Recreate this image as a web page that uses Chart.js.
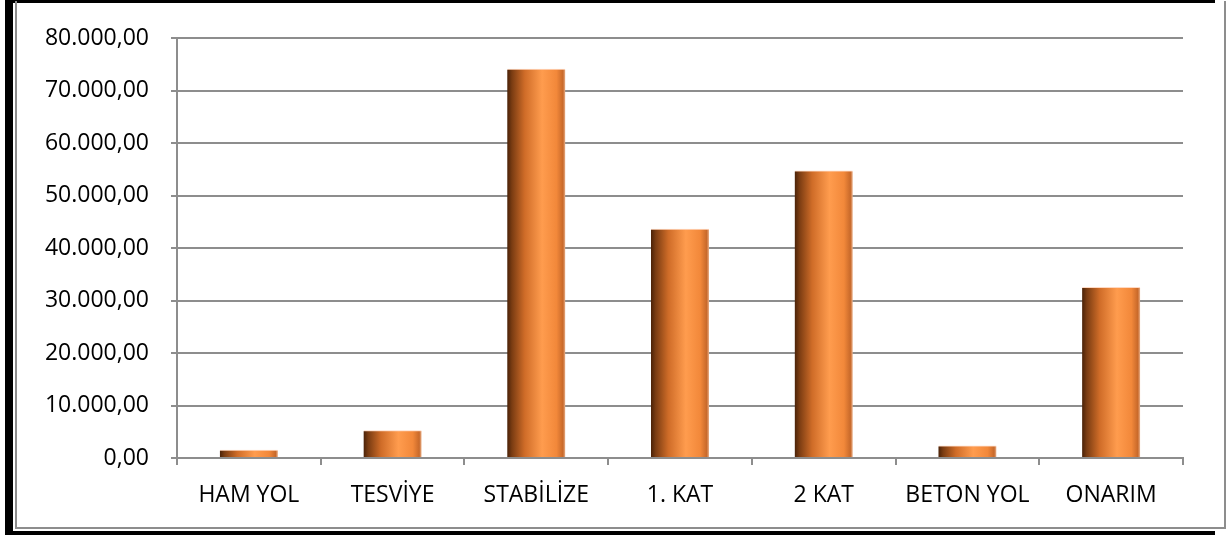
<!DOCTYPE html>
<html>
<head>
<meta charset="utf-8">
<script src="https://cdn.jsdelivr.net/npm/chart.js@4/dist/chart.umd.min.js"></script>
<style>
	body { margin: 0; background: #fff; }
	#wrap { position: relative; width: 1227px; height: 535px; overflow: hidden; }
	#shadow { position: absolute; left: 5px; top: 0; width: 1210px; height: 535px; background: #000; }
	#card { position: absolute; left: 13px; top: 3px; width: 1214px; height: 528px; background: #fff; }
	#edge { position: absolute; left: 15px; top: 1px; width: 1211px; height: 528px; border-left: 2px solid #8d8d8d; border-right: 2px solid #8d8d8d; border-bottom: 2px solid #8d8d8d; box-sizing: border-box; }
	canvas { position: absolute; left: 0; top: 0; }
</style>
</head>
<body>
<div id="wrap">
	<div id="shadow"></div>
	<div id="card"></div>
	<div id="edge"></div>
	<canvas id="chart" width="1227" height="535"></canvas>
</div>
<script>
const categories = ['HAM YOL', 'TESVİYE', 'STABİLİZE', '1. KAT', '2 KAT', 'BETON YOL', 'ONARIM'];
const values = [1500, 5200, 74100, 43600, 54700, 2300, 32500];
const yTickLabels = ['0,00', '10.000,00', '20.000,00', '30.000,00', '40.000,00', '50.000,00', '60.000,00', '70.000,00', '80.000,00'];

const BAR_W = 58;
const FONT = { family: '"Open Sans"', size: 23 };

// cylinder shading, dark on the left, light toward the right
function barFill(context) {
	const chart = context.chart;
	const x = chart.scales && chart.scales.x;
	if (!x) return '#f08a3a';
	const cx = x.getPixelForValue(context.dataIndex);
	if (!isFinite(cx)) return '#f08a3a';
	const g = chart.ctx.createLinearGradient(cx - BAR_W / 2, 0, cx + BAR_W / 2, 0);
	g.addColorStop(0, '#4a2208');
	g.addColorStop(0.08, '#7a3c12');
	g.addColorStop(0.3, '#cf6c28');
	g.addColorStop(0.6, '#ff9c4e');
	g.addColorStop(0.85, '#f2883a');
	g.addColorStop(0.96, '#c8692a');
	g.addColorStop(1, '#e9b08a');
	return g;
}

const ctx = document.getElementById('chart').getContext('2d');
new Chart(ctx, {
	type: 'bar',
	data: {
		labels: categories,
		datasets: [{
			data: values,
			backgroundColor: barFill,
			borderColor: 'rgba(255,214,190,0.95)',
			borderWidth: { top: 1, left: 0, right: 0, bottom: 0 },
			borderSkipped: 'bottom',
			barThickness: BAR_W,
		}],
	},
	options: {
		responsive: false,
		animation: false,
		layout: { padding: { left: 0, right: 44, top: 38, bottom: 0 } },
		plugins: { legend: { display: false }, tooltip: { enabled: false } },
		scales: {
			x: {
				afterFit: (s) => { s.height = 77; },
				grid: { offset: true, drawOnChartArea: false, color: '#8d8d8d', lineWidth: 2, tickLength: 7 },
				border: { color: '#8d8d8d', width: 2 },
				ticks: { color: '#000', padding: 17, font: FONT, maxRotation: 0 },
			},
			y: {
				min: 0,
				max: 80000,
				afterFit: (s) => { s.width = 177; },
				grid: { color: '#8d8d8d', lineWidth: 2, tickLength: 6 },
				border: { color: '#8d8d8d', width: 2 },
				ticks: {
					stepSize: 10000,
					color: '#000',
					padding: 22,
					font: FONT,
					callback: (v, i) => yTickLabels[i],
				},
			},
		},
	},
});
</script>
</body>
</html>
